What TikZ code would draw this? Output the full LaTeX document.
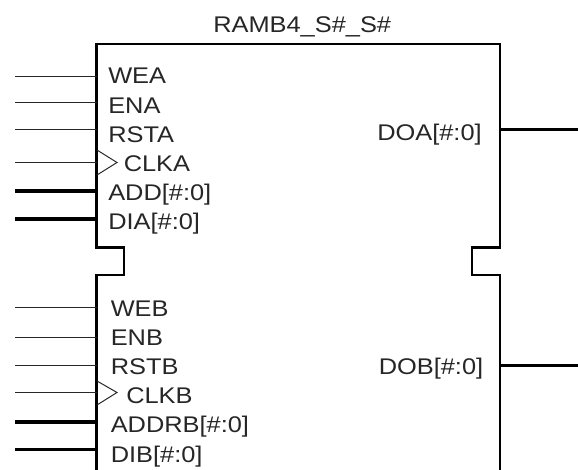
\documentclass[tikz,border=0pt]{standalone}
\usepackage{fontspec}
\setmainfont[FakeStretch=1.12]{Liberation Sans}
\tikzset{
	pinlabel/.style={anchor=base west,inner sep=0pt,font=\fontsize{17pt}{19pt}\selectfont,text=black!85},
	signal/.style={line width=0.75pt,black!85},
	bus/.style={line width=2.6pt,black},
	outline/.style={line width=1.7pt,black,line join=miter}
}
\begin{document}
\begin{tikzpicture}[x=0.75pt,y=-0.75pt]
	\useasboundingbox (0,0) rectangle (578,470);

	\node(title)[pinlabel] at (213,32.5){RAMB4\_S\#\_S\#};

	\node(wea)[pinlabel] at (108,84){WEA};
	\node(ena)[pinlabel] at (108,113.5){ENA};
	\node(rsta)[pinlabel] at (108,143){RSTA};
	\node(clka)[pinlabel] at (123.5,172){CLKA};
	\node(adda)[pinlabel] at (108,200.5){ADD[\#:0]};
	\node(dia)[pinlabel] at (108,229.5){DIA[\#:0]};
	\node(doa)[pinlabel] at (377,140.5){DOA[\#:0]};

	\node(web)[pinlabel] at (110.5,316){WEB};
	\node(enb)[pinlabel] at (110.5,345.5){ENB};
	\node(rstb)[pinlabel] at (110.5,374){RSTB};
	\node(clkb)[pinlabel] at (126,403){CLKB};
	\node(addrb)[pinlabel] at (110.5,432.5){ADDRB[\#:0]};
	\node(dib)[pinlabel] at (110.5,462){DIB[\#:0]};
	\node(dob)[pinlabel] at (378.5,374.5){DOB[\#:0]};

	\coordinate(wea in) at (15,76.5);
	\coordinate(wea pin) at (96.5,76.5);
	\coordinate(ena in) at (15,102.5);
	\coordinate(ena pin) at (96.5,102.5);
	\coordinate(rsta in) at (15,129.5);
	\coordinate(rsta pin) at (96.5,129.5);
	\coordinate(clka in) at (15,162.5);
	\coordinate(clka pin) at (96.5,162.5);
	\coordinate(adda in) at (15,191);
	\coordinate(adda pin) at (96.5,191);
	\coordinate(dia in) at (15,219);
	\coordinate(dia pin) at (96.5,219);
	\coordinate(web in) at (15,307.5);
	\coordinate(web pin) at (96.5,307.5);
	\coordinate(enb in) at (15,337.5);
	\coordinate(enb pin) at (96.5,337.5);
	\coordinate(rstb in) at (15,365.5);
	\coordinate(rstb pin) at (96.5,365.5);
	\coordinate(clkb in) at (15,392.5);
	\coordinate(clkb pin) at (96.5,392.5);
	\coordinate(addrb in) at (15,422);
	\coordinate(addrb pin) at (96.5,422);
	\coordinate(dib in) at (15,449.5);
	\coordinate(dib pin) at (96.5,449.5);
	\coordinate(doa pin) at (500,129.7);
	\coordinate(doa out) at (578,129.7);
	\coordinate(dob pin) at (500,365.7);
	\coordinate(dob out) at (578,365.7);

	\draw[outline] (96.5,470) -- (96.5,275) -- (124,275) -- (124,247.5) -- (96.5,247.5) -- (96.5,44)
		-- (500,44) -- (500,247.5) -- (472,247.5) -- (472,275) -- (500,275) -- (500,470);

	\draw[signal] (97,150) -- (117,162.5) -- (97,175);
	\draw[signal] (97,381) -- (117,392.5) -- (97,405);

	\path[signal]   (wea in) edge (wea pin)
			(ena in) edge (ena pin)
			(rsta in) edge (rsta pin)
			(clka in) edge (clka pin)
			(web in) edge (web pin)
			(enb in) edge (enb pin)
			(rstb in) edge (rstb pin)
			(clkb in) edge (clkb pin);
	\path[bus]      (adda in) edge (adda pin)
			(dia in) edge (dia pin)
			(addrb in) edge (addrb pin)
			(dib in) edge (dib pin)
			(doa pin) edge (doa out)
			(dob pin) edge (dob out);
\end{tikzpicture}
\end{document}
